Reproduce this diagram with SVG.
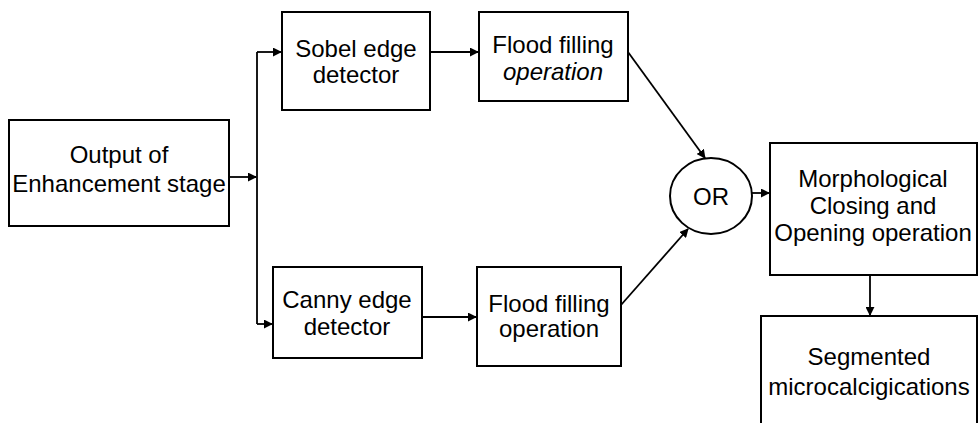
<svg xmlns="http://www.w3.org/2000/svg" width="978" height="423" viewBox="0 0 978 423">
  <style>
    .box { fill: #ffffff; stroke: #000000; stroke-width: 2; }
    .lbl { font-family: "Liberation Sans", Arial, sans-serif; font-size: 24px; fill: #000000; text-anchor: middle; }
    .it { font-style: italic; }
    .wire { fill: none; stroke: #000000; stroke-width: 1.8; }
  </style>
  <defs>
    <marker id="arrow" viewBox="0 0 10 10" refX="9" refY="5" markerWidth="9" markerHeight="9" markerUnits="userSpaceOnUse" orient="auto">
      <path d="M0,0 L10,5 L0,10 z" fill="#000000"/>
    </marker>
  </defs>
  <rect width="978" height="423" fill="#ffffff"/>

  <!-- connectors -->
  <g id="connectors">
    <line class="wire" x1="229" y1="177" x2="256" y2="177" marker-end="url(#arrow)"/>
    <polyline class="wire" points="257,324 257,52"/>
    <line class="wire" x1="257" y1="52" x2="281" y2="52" marker-end="url(#arrow)"/>
    <line class="wire" x1="257" y1="324" x2="272" y2="324" marker-end="url(#arrow)"/>
    <line class="wire" x1="430" y1="52" x2="478" y2="52" marker-end="url(#arrow)"/>
    <line class="wire" x1="422" y1="317" x2="476" y2="317" marker-end="url(#arrow)"/>
    <line class="wire" x1="628" y1="52" x2="705" y2="158" marker-end="url(#arrow)"/>
    <line class="wire" x1="621" y1="305" x2="688" y2="229" marker-end="url(#arrow)"/>
    <line class="wire" x1="752" y1="193" x2="769" y2="193" marker-end="url(#arrow)"/>
    <line class="wire" x1="870" y1="275" x2="870" y2="315" marker-end="url(#arrow)"/>
  </g>

  <g id="node-output">
    <rect class="box" x="9" y="120" width="220" height="106"/>
    <text class="lbl" x="119" y="163">Output of</text>
    <text class="lbl" x="119" y="192">Enhancement stage</text>
  </g>

  <g id="node-sobel">
    <rect class="box" x="282" y="12" width="148" height="98"/>
    <text class="lbl" x="356" y="57">Sobel edge</text>
    <text class="lbl" x="356" y="83">detector</text>
  </g>

  <g id="node-flood1">
    <rect class="box" x="479" y="12" width="149" height="89"/>
    <text class="lbl" x="553" y="53">Flood filling</text>
    <text class="lbl it" x="553" y="80">operation</text>
  </g>

  <g id="node-canny">
    <rect class="box" x="273" y="267" width="149" height="91"/>
    <text class="lbl" x="347" y="308">Canny edge</text>
    <text class="lbl" x="347" y="335">detector</text>
  </g>

  <g id="node-flood2">
    <rect class="box" x="477" y="267" width="144" height="99"/>
    <text class="lbl" x="549" y="312">Flood filling</text>
    <text class="lbl" x="549" y="337">operation</text>
  </g>

  <g id="node-or">
    <ellipse class="box" cx="711" cy="196" rx="41" ry="38"/>
    <text class="lbl" x="711" y="205">OR</text>
  </g>

  <g id="node-morph">
    <rect class="box" x="770" y="143" width="207" height="132"/>
    <text class="lbl" x="873" y="187">Morphological</text>
    <text class="lbl" x="873" y="214">Closing and</text>
    <text class="lbl" x="873" y="241">Opening operation</text>
  </g>

  <g id="node-segmented">
    <rect class="box" x="761" y="316" width="216" height="120"/>
    <text class="lbl" x="869" y="365">Segmented</text>
    <text class="lbl" x="869" y="395">microcalcigications</text>
  </g>
</svg>
